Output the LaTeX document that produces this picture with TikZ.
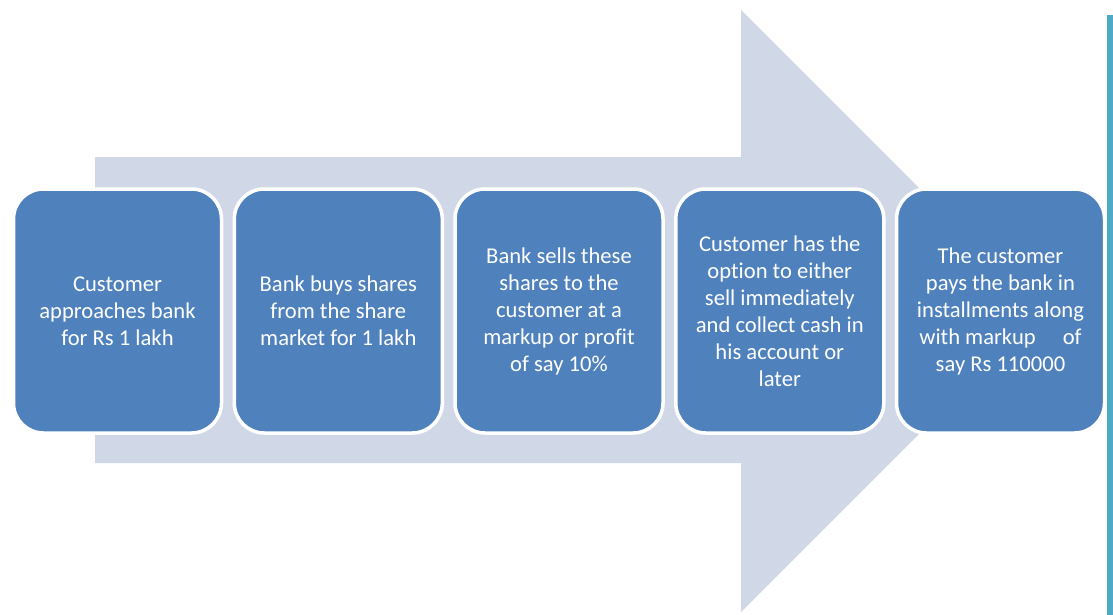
\documentclass[tikz,border=0pt]{standalone}
\usepackage{fontspec}
\setmainfont{Carlito}[Ligatures=NoCommon]
\definecolor{arrowc}{HTML}{D0D8E8}
\definecolor{boxc}{HTML}{4F81BD}
\definecolor{edgec}{HTML}{4BACC6}
\tikzset{
  stepbox/.style={draw=white, line width=3.5pt, fill=boxc, rounded corners=30pt,
    minimum width=208pt, minimum height=244pt, text=white, align=center,
    font=\fontsize{22.6pt}{27pt}\selectfont, inner sep=0pt}
}
\begin{document}
\begin{tikzpicture}[x=1pt,y=-1pt]
\useasboundingbox (0,0) rectangle (1113,615);
\fill[arrowc] (95,157) -- (741,157) -- (741,10) -- (1042,311) -- (741,612) -- (741,463) -- (95,463) -- cycle;
\fill[edgec] (1107,15) rectangle (1113,615);
\node[stepbox] (b1) at (117.5,311) {Customer\\approaches bank\\for Rs 1 lakh};
\node[stepbox] (b2) at (338.3,311) {Bank buys shares\\from the share\\market for 1 lakh};
\node[stepbox] (b3) at (559,311) {Bank sells these\\shares to the\\customer at a\\markup or profit\\of say 10\%};
\node[stepbox] (b4) at (779.8,311) {Customer has the\\option to either\\sell immediately\\and collect cash in\\his account or\\later};
\node[stepbox] (b5) at (1000.5,311) {The customer\\pays the bank in\\installments along\\with markup\hspace{1.2em}of\\say Rs 110000};
\end{tikzpicture}
\end{document}
